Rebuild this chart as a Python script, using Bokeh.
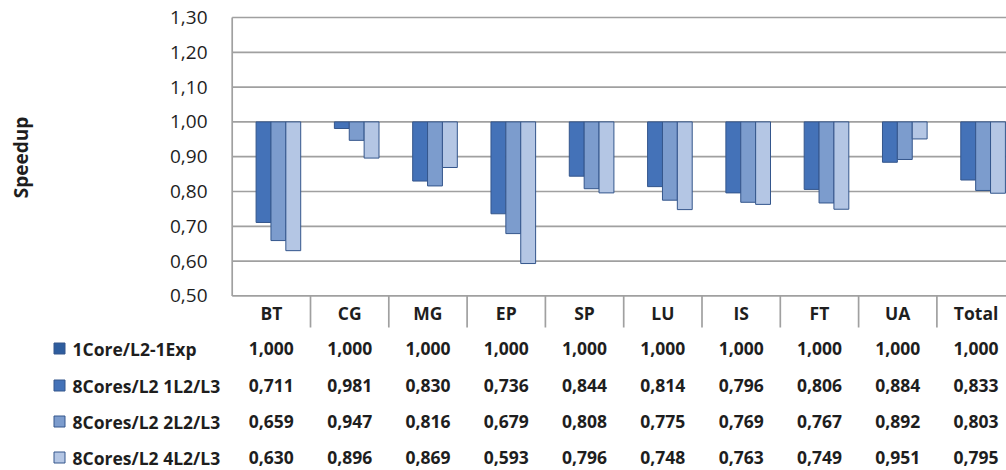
import math
from bokeh.plotting import figure
from bokeh.models import Range1d
from bokeh.embed import file_html
from bokeh.resources import INLINE
from bokeh.core.properties import value

# ---------------- data ----------------
categories = ["BT", "CG", "MG", "EP", "SP", "LU", "IS", "FT", "UA", "Total"]
series_names = ["1Core/L2-1Exp", "8Cores/L2 1L2/L3", "8Cores/L2 2L2/L3", "8Cores/L2 4L2/L3"]
s_1core = [1.000, 1.000, 1.000, 1.000, 1.000, 1.000, 1.000, 1.000, 1.000, 1.000]
s_1l2 = [0.711, 0.981, 0.830, 0.736, 0.844, 0.814, 0.796, 0.806, 0.884, 0.833]
s_2l2 = [0.659, 0.947, 0.816, 0.679, 0.808, 0.775, 0.769, 0.767, 0.892, 0.803]
s_4l2 = [0.630, 0.896, 0.869, 0.593, 0.796, 0.748, 0.763, 0.749, 0.951, 0.795]
series_values = [s_1core, s_1l2, s_2l2, s_4l2]
y_ticks = [0.5, 0.6, 0.7, 0.8, 0.9, 1.0, 1.1, 1.2, 1.3]
y_tick_labels = ["0,50", "0,60", "0,70", "0,80", "0,90", "1,00", "1,10", "1,20", "1,30"]
bar_base = 1.0
y_label = "Speedup"

# ---------------- style / layout ----------------
FONT = "Open Sans"
TXT = "#1E1E1E"
GRID = "#A0A0A0"
COLORS = ["#2E5D9E", "#4472B8", "#7C9CCD", "#B4C6E4"]
EDGE = "#34568C"
OFFSETS = [-0.29, -0.10, 0.09, 0.28]
BAR_W = 0.19

W, H = 1006, 470
PAGE_OFF = 0            # where the figure starts in the picture
CAT0_LEFT = 231.7       # picture px of the plot-area left edge
CAT_PX = 78.3           # picture px per category
Y_TOP_PAGE = 17.0       # picture px of the top value
PX_PER_UNIT = 348.0     # picture px per 1.0 of speedup
Y_MIN, Y_MAX = y_ticks[0], y_ticks[-1]


def xd(px):  # picture px -> data x
    return -0.5 + (px - CAT0_LEFT) / CAT_PX


def yd(py):  # picture px -> data y
    return Y_MAX - (py - Y_TOP_PAGE) / PX_PER_UNIT


p = figure(width=W, height=H,
           x_range=Range1d(xd(PAGE_OFF), xd(PAGE_OFF + W)),
           y_range=Range1d(yd(PAGE_OFF + H), yd(PAGE_OFF)),
           output_backend="svg", toolbar_location=None, min_border=0,
           x_axis_location=None, y_axis_location=None)
p.grid.visible = False
p.outline_line_color = None
p.background_fill_color = "white"
p.border_fill_color = "white"

n = len(categories)
centers = list(range(n))
x_right = xd(PAGE_OFF + W) + 1

# gridlines (value axis)
p.segment(x0=[-0.5] * len(y_ticks), x1=[x_right] * len(y_ticks),
          y0=y_ticks, y1=y_ticks, line_color=GRID, line_width=1.7)
# plot-area left border
p.segment(x0=[-0.5], x1=[-0.5], y0=[Y_MIN], y1=[Y_MAX], line_color=GRID, line_width=1.7)
# category separators in the table header
p.segment(x0=[c + 0.5 for c in centers[:-1]], x1=[c + 0.5 for c in centers[:-1]],
          y0=[Y_MIN] * (n - 1), y1=[yd(327)] * (n - 1), line_color=GRID, line_width=1.7)

# value-axis tick labels
p.text(x=[xd(207)] * len(y_ticks), y=y_ticks, text=y_tick_labels,
       text_align="right", text_baseline="middle", text_font=value(FONT),
       text_font_size="19px", text_color=TXT)
# value-axis title
p.text(x=[xd(20)], y=[yd(157)], text=[y_label], angle=math.pi / 2,
       text_align="center", text_baseline="middle", text_font=value(FONT),
       text_font_size="19px", text_font_style="bold", text_color=TXT)

# bars hanging from the 1,00 baseline
for i, vals in enumerate(series_values):
    xs = [c + OFFSETS[i] for c in centers]
    p.vbar(x=xs, width=BAR_W, top=bar_base, bottom=vals,
           fill_color=COLORS[i], line_color=EDGE, line_width=1,
           line_alpha=0 if i == 0 else 1)

# category labels
p.text(x=centers, y=[yd(312)] * n, text=categories, text_align="center",
       text_baseline="middle", text_font=value(FONT), text_font_size="17.5px",
       text_color=TXT, text_font_style="bold")

# data table with legend keys
row_y = [yd(348), yd(385), yd(421), yd(457)]
for i, (name, vals) in enumerate(zip(series_names, series_values)):
    p.scatter(x=[xd(59)], y=[row_y[i]], marker="square", size=11,
              fill_color=COLORS[i], line_color=EDGE, line_width=1)
    p.text(x=[xd(72)], y=[row_y[i]], text=[name], text_align="left",
           text_baseline="middle", text_font=value(FONT), text_font_size="17.5px",
           text_font_style="bold", text_color=TXT)
    p.text(x=centers, y=[row_y[i]] * n,
           text=[f"{v:.3f}".replace(".", ",") for v in vals],
           text_align="center", text_baseline="middle", text_font=value(FONT),
           text_font_size="17.5px", text_font_style="bold", text_color=TXT)

open("out.html", "w").write(file_html(p, INLINE))
